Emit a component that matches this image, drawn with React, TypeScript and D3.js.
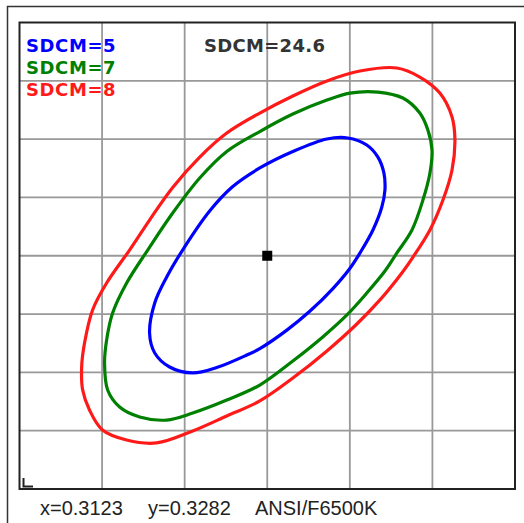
import { useEffect, useRef } from "react";
import * as d3 from "d3";

// chromaticity window (grid step 0.004)
const xTicks = [0.3003, 0.3043, 0.3083, 0.3123, 0.3163, 0.3203, 0.3243];
const yTicks = [0.3122, 0.3162, 0.3202, 0.3242, 0.3282, 0.3322, 0.3362, 0.3402, 0.3442];

const center: [number, number] = [0.3123, 0.3282];

// ellipse outlines, [x, y]
const sdcm5: [number, number][] = [
  [0.3162, 0.33628], [0.31712, 0.3358], [0.31766, 0.33497], [0.31795, 0.33388],
  [0.318, 0.33271], [0.31785, 0.33154], [0.31742, 0.32997], [0.31679, 0.32839],
  [0.3163, 0.32733], [0.31548, 0.32595], [0.31436, 0.32439], [0.31325, 0.3231],
  [0.31194, 0.32183], [0.31131, 0.32139], [0.30985, 0.32053], [0.30869, 0.32016],
  [0.30757, 0.32057], [0.30685, 0.32153], [0.3066, 0.3229], [0.30685, 0.32496],
  [0.30743, 0.32674], [0.3082, 0.32859], [0.30951, 0.33127],
  [0.31063, 0.33295], [0.31194, 0.33422], [0.31354, 0.33535], [0.31519, 0.33621],
];

const sdcm7: [number, number][] = [
  [0.3163, 0.33936], [0.31766, 0.33943], [0.31887, 0.33902], [0.31969, 0.33799],
  [0.32008, 0.33683], [0.32028, 0.33545], [0.32018, 0.33388], [0.31984, 0.33202],
  [0.31931, 0.32997], [0.31858, 0.32839], [0.318, 0.32715], [0.31712, 0.32564],
  [0.31616, 0.32414], [0.31499, 0.32263], [0.31354, 0.32098], [0.31194, 0.31933],
  [0.31034, 0.3183], [0.30869, 0.31741], [0.30743, 0.31693], [0.30612, 0.31714],
  [0.30515, 0.31782], [0.30457, 0.31899], [0.30442, 0.32084], [0.30452, 0.32242],
  [0.30481, 0.32427], [0.30549, 0.32633], [0.30651, 0.32859], [0.30772, 0.33113],
  [0.30903, 0.33353], [0.31034, 0.33535], [0.31194, 0.33672], [0.31354, 0.33792],
  [0.31519, 0.33888],
];

const sdcm8: [number, number][] = [
  [0.31858, 0.34108], [0.31969, 0.34046], [0.32066, 0.33936], [0.32125, 0.33772],
  [0.32139, 0.33614], [0.32125, 0.33408], [0.32081, 0.33202], [0.32018, 0.32997],
  [0.31936, 0.32811], [0.31882, 0.32702], [0.31776, 0.32517], [0.31664, 0.32352],
  [0.31519, 0.32167], [0.31354, 0.31981], [0.31194, 0.31824], [0.31034, 0.31721],
  [0.30869, 0.31618], [0.30694, 0.31536], [0.30549, 0.31556], [0.30432, 0.31625],
  [0.30369, 0.31762], [0.30336, 0.31899], [0.30331, 0.32057], [0.30345, 0.32221],
  [0.30384, 0.32448], [0.30452, 0.32633], [0.30563, 0.32859], [0.3066, 0.33065],
  [0.30772, 0.33288], [0.30903, 0.33497], [0.31034, 0.33662], [0.31194, 0.33799],
  [0.31354, 0.33916], [0.31519, 0.34019], [0.31679, 0.34087],
];

const seriesLabels = ["SDCM=5", "SDCM=7", "SDCM=8"];
const seriesColors = ["#0000ff", "#008000", "#ff1a1a"];
const seriesData = [sdcm5, sdcm7, sdcm8];

const titleText = "SDCM=24.6";
const footerTexts = ["x=0.3123", "y=0.3282", "ANSI/F6500K"];

export default function App() {
  const svgRef = useRef<SVGSVGElement | null>(null);

  const width = 524;
  const height = 523;
  const plot = { left: 19.5, top: 22.5, right: 515, bottom: 489 };

  useEffect(() => {
    const svgEl = svgRef.current;
    if (!svgEl) return;
    const svg = d3.select(svgEl);
    svg.selectAll("*").remove();

    const x = d3
      .scaleLinear()
      .domain([xTicks[0], xTicks[xTicks.length - 1]])
      .range([plot.left, plot.right]);
    const y = d3
      .scaleLinear()
      .domain([yTicks[0], yTicks[yTicks.length - 1]])
      .range([plot.bottom, plot.top]);

    svg.append("rect").attr("width", width).attr("height", height).attr("fill", "#fff");

    // outer frame
    svg
      .append("path")
      .attr("d", `M7.5,${height + 2}V6.5H${width + 2}`)
      .attr("fill", "none")
      .attr("stroke", "#333")
      .attr("stroke-width", 1.5);

    // grid
    const grid = svg.append("g").attr("stroke", "#999").attr("stroke-width", 1.8);
    xTicks.slice(1, -1).forEach((t) => {
      grid
        .append("line")
        .attr("x1", x(t))
        .attr("x2", x(t))
        .attr("y1", plot.top)
        .attr("y2", plot.bottom);
    });
    yTicks.slice(1, -1).forEach((t) => {
      grid
        .append("line")
        .attr("x1", plot.left)
        .attr("x2", plot.right)
        .attr("y1", y(t))
        .attr("y2", y(t));
    });

    // plot box
    svg
      .append("rect")
      .attr("x", plot.left)
      .attr("y", plot.top)
      .attr("width", plot.right - plot.left)
      .attr("height", plot.bottom - plot.top)
      .attr("fill", "none")
      .attr("stroke", "#222")
      .attr("stroke-width", 2);

    // little corner mark
    svg
      .append("path")
      .attr("d", `M23.5,478V486.5H33`)
      .attr("fill", "none")
      .attr("stroke", "#222")
      .attr("stroke-width", 2);

    const line = d3
      .line<[number, number]>()
      .x((d) => x(d[0]))
      .y((d) => y(d[1]))
      .curve(d3.curveCatmullRomClosed.alpha(0.5));

    seriesData.forEach((pts, i) => {
      svg
        .append("path")
        .datum(pts)
        .attr("fill", "none")
        .attr("stroke", seriesColors[i])
        .attr("stroke-width", 3.2)
        .attr("stroke-linejoin", "round")
        .attr("d", line);
    });

    // centre point
    svg
      .append("rect")
      .attr("x", x(center[0]) - 5)
      .attr("y", y(center[1]) - 5)
      .attr("width", 10)
      .attr("height", 10)
      .attr("fill", "#000");

    // legend
    seriesLabels.forEach((label, i) => {
      svg
        .append("text")
        .attr("x", 26)
        .attr("y", 52 + i * 22)
        .attr("fill", seriesColors[i])
        .attr("font-family", "DejaVu Sans")
        .attr("font-weight", 700)
        .attr("font-size", 18)
        .attr("letter-spacing", 0.6)
        .text(label);
    });

    svg
      .append("text")
      .attr("x", 204)
      .attr("y", 52)
      .attr("fill", "#333")
      .attr("font-family", "DejaVu Sans")
      .attr("font-weight", 700)
      .attr("font-size", 18)
      .attr("letter-spacing", 0.3)
      .text(titleText);

    const footerX = [40, 148, 255];
    footerTexts.forEach((t, i) => {
      svg
        .append("text")
        .attr("x", footerX[i])
        .attr("y", 515)
        .attr("fill", "#222")
        .attr("font-family", "Liberation Sans, Arial, sans-serif")
        .attr("font-size", 20)
        .text(t);
    });
  }, []);

  return (
    <svg
      ref={svgRef}
      width={width}
      height={height}
      style={{ position: "absolute", left: 0, top: 0, display: "block" }}
    />
  );
}
